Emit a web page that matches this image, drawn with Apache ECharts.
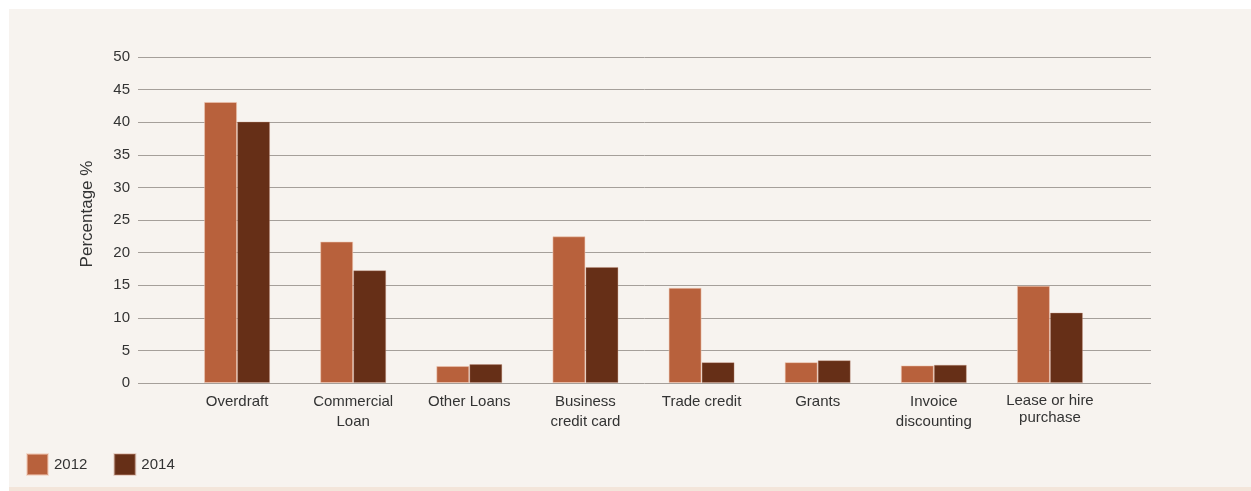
<!DOCTYPE html>
<html>
<head>
<meta charset="utf-8">
<script src="https://cdn.jsdelivr.net/npm/echarts@6/dist/echarts.min.js"></script>
<style>
  html, body { margin: 0; padding: 0; background: #ffffff; }
  #chart { width: 1251px; height: 491px; }
</style>
</head>
<body>
<div id="chart"></div>
<script>
// Sources of finance used, share of businesses
const categories = ['Overdraft', 'Commercial\nLoan', 'Other Loans', 'Business\ncredit card', 'Trade credit', 'Grants', 'Invoice\ndiscounting', 'Lease or hire\npurchase'];
const values2012 = [43.1, 21.7, 2.6, 22.5, 14.6, 3.2, 2.7, 14.9];
const values2014 = [40.1, 17.3, 2.9, 17.8, 3.2, 3.5, 2.8, 10.8];
const yTicks = [0, 5, 10, 15, 20, 25, 30, 35, 40, 45, 50];

const FONT = 'Liberation Sans, Arial, Helvetica, sans-serif';
const chart = echarts.init(document.getElementById('chart'), null, { renderer: 'canvas' });

const categoryData = categories.map(c => (
  c.startsWith('Lease') ? { value: c, textStyle: { lineHeight: 17 } } : c
));

chart.setOption({
  backgroundColor: '#ffffff',
  animation: false,
  graphic: [
    { type: 'rect', z: -10, shape: { x: 9, y: 9, width: 1242, height: 482 }, style: { fill: '#f3e5da' } },
    { type: 'rect', z: -9, shape: { x: 9, y: 9, width: 1242, height: 478 }, style: { fill: '#f7f3ef' } }
  ],
  legend: {
    left: 21, top: 448,
    itemWidth: 21, itemHeight: 21, itemGap: 26,
    icon: 'rect',
    textStyle: { fontFamily: FONT, fontSize: 15, color: '#333333', padding: [2, 0, 0, 1] },
    data: ['2012', '2014']
  },
  grid: [
    { left: 138, right: 100, top: 57, bottom: 108 },
    { left: 179, right: 143, top: 57, bottom: 108 }
  ],
  xAxis: [
    { gridIndex: 0, type: 'value', show: false, min: 0, max: 1 },
    {
      gridIndex: 1, type: 'category', data: categoryData,
      axisLine: { show: false }, axisTick: { show: false },
      axisLabel: { fontFamily: FONT, fontSize: 15, color: '#333333', margin: 9, lineHeight: 20, interval: 0 }
    }
  ],
  yAxis: [
    {
      gridIndex: 0, type: 'value', min: yTicks[0], max: yTicks[yTicks.length - 1], interval: 5,
      axisLine: { show: false }, axisTick: { show: false },
      axisLabel: { fontFamily: FONT, fontSize: 15, color: '#333333', margin: 8 },
      splitLine: { lineStyle: { color: '#a59f9a', width: 1 } },
      name: 'Percentage %', nameLocation: 'middle', nameRotate: 90, nameGap: 42,
      nameTextStyle: { fontFamily: FONT, fontSize: 17, color: '#333333', padding: [0, 0, 0, 12] }
    },
    { gridIndex: 1, type: 'value', min: 0, max: 50, show: false, splitLine: { show: false } }
  ],
  series: [
    {
      name: '2012', type: 'bar', xAxisIndex: 1, yAxisIndex: 1,
      data: values2012, barWidth: 33, barGap: '0%',
      itemStyle: { color: '#b8613c', borderColor: 'rgba(240,200,180,0.55)', borderWidth: 1 }
    },
    {
      name: '2014', type: 'bar', xAxisIndex: 1, yAxisIndex: 1,
      data: values2014, barWidth: 33, barGap: '0%',
      itemStyle: { color: '#662f17', borderColor: 'rgba(200,150,130,0.35)', borderWidth: 1 }
    }
  ]
});
</script>
</body>
</html>
